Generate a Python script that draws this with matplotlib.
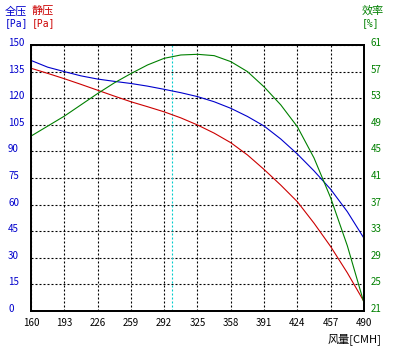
import numpy as np
import matplotlib
matplotlib.use('Agg')
import matplotlib.pyplot as plt
import matplotlib.transforms as mtransforms

plt.rcParams['font.family'] = ['Noto Sans CJK SC', 'DejaVu Sans']

# 数据
flow = [160, 176.5, 193, 209.5, 226, 242.5, 259, 275.5, 292, 308.5, 325,
        341.5, 358, 374.5, 391, 407.5, 424, 440.5, 457, 473.5, 490]
total_p = [141.3, 137.5, 135, 132.6, 130.8, 129.5, 128.3, 126.8, 125, 123.1, 120.9,
           118, 114.3, 109.7, 104.3, 97, 88.5, 79, 68.6, 56, 41]
static_p = [136.9, 134.0, 131.0, 127.8, 124.5, 121.2, 118.0, 115.2, 112.3, 108.9, 104.9,
            100.3, 94.9, 88, 79.8, 71, 61.6, 49.5, 36.3, 21.5, 5.3]
eff = [47.3, 48.8, 50.3, 52, 53.7, 55.3, 56.7, 58, 59.0, 59.5, 59.6,
       59.4, 58.5, 57, 54.7, 52, 48.7, 44.0, 38.0, 30.8, 22.2]
marker_flow = 300

x_ticks = [160, 193, 226, 259, 292, 325, 358, 391, 424, 457, 490]
left_ticks = [0, 15, 30, 45, 60, 75, 90, 105, 120, 135, 150]
right_ticks = [21, 25, 29, 33, 37, 41, 45, 49, 53, 57, 61]

BLUE = '#0000cc'
RED = '#cc0000'
GREEN = '#008000'

fig = plt.figure(figsize=(3.96, 3.55), dpi=100)
ax = fig.add_axes([31 / 396, 44 / 355, 333 / 396, 266 / 355])
ax2 = ax.twinx()

ax.set_xlim(160, 490)
ax.set_ylim(0, 150)
ax2.set_ylim(21, 61)

ax.set_xticks(x_ticks)
ax.set_yticks(left_ticks)
ax2.set_yticks(right_ticks)
ax.grid(True, color='black', linewidth=0.8, linestyle=(0, (1.8, 1.8)))

ax.axvline(marker_flow, color='#00cccc', linewidth=0.8, linestyle=(0, (1.8, 1.8)))

ax.plot(flow, total_p, color=BLUE, linewidth=0.8)
ax.plot(flow, static_p, color=RED, linewidth=0.8)
ax2.plot(flow, eff, color=GREEN, linewidth=0.8)

for a in (ax, ax2):
    for s in a.spines.values():
        s.set_linewidth(1.3)
        s.set_color('black')

ax.tick_params(axis='both', length=0, labelsize=7)
ax2.tick_params(axis='y', length=0, labelsize=7, labelcolor=GREEN, pad=5)
ax.tick_params(axis='y', labelcolor=BLUE, pad=16.5)
ax.tick_params(axis='x', pad=5)
for lbl in ax.get_yticklabels():
    lbl.set_ha('left')

# 纵轴标签稍微上移
up = mtransforms.ScaledTranslation(0, 3 / 100, fig.dpi_scale_trans)
for lbl in ax.get_yticklabels() + ax2.get_yticklabels():
    lbl.set_transform(lbl.get_transform() + up)

fig.text(5 / 396, 1 - 11 / 355, '全压', color=BLUE, fontsize=8, va='center', ha='left')
fig.text(5 / 396, 1 - 23 / 355, '[Pa]', color=BLUE, fontsize=7, va='center', ha='left',
         family='DejaVu Sans Mono')
fig.text(32 / 396, 1 - 11 / 355, '静压', color=RED, fontsize=8, va='center', ha='left')
fig.text(32 / 396, 1 - 23 / 355, '[Pa]', color=RED, fontsize=7, va='center', ha='left',
         family='DejaVu Sans Mono')
fig.text(362 / 396, 1 - 11 / 355, '效率', color=GREEN, fontsize=8, va='center', ha='left')
fig.text(362 / 396, 1 - 23 / 355, '[%]', color=GREEN, fontsize=7, va='center', ha='left',
         family='DejaVu Sans Mono')
fig.text(328 / 396, 1 - 339 / 355, '风量[CMH]', color='black', fontsize=8, va='center', ha='left')

fig.savefig('out.png', dpi=100)
